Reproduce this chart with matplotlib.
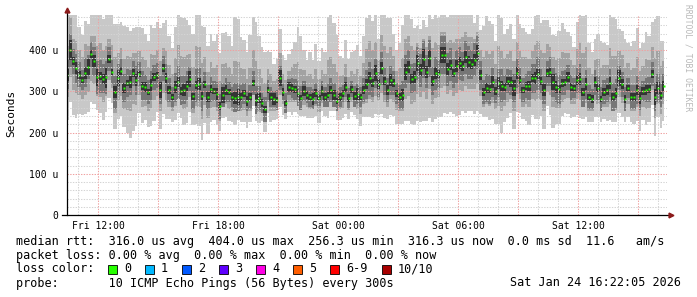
import numpy as np
import matplotlib
matplotlib.use("Agg")
import matplotlib.pyplot as plt
from matplotlib.patches import Rectangle

W, H = 697, 297

# time base: hours since Fri 00:00, one slot every 9 minutes
t_start = 10.45
t_step = 0.15

# median rtt per slot, microseconds
median = [
    340, 400, 373, 356, 340, 327, 345, 359, 390, 373, 334, 337, 330, 334, 378, 347, 298, 332, 349, 308,
    320, 322, 344, 327, 342, 313, 310, 298, 315, 334, 339, 303, 356, 332, 303, 286, 310, 322, 301, 303,
    313, 330, 288, 315, 317, 288, 317, 286, 305, 301, 293, 264, 291, 303, 298, 286, 284, 286, 286, 295,
    276, 286, 320, 279, 284, 272, 256, 303, 286, 281, 279, 332, 298, 272, 310, 308, 305, 295, 284, 301,
    291, 286, 281, 295, 284, 301, 286, 291, 303, 291, 276, 286, 295, 310, 284, 305, 288, 293, 286, 303,
    317, 332, 320, 344, 317, 356, 325, 303, 327, 320, 295, 286, 291, 347, 359, 330, 334, 368, 351, 378,
    347, 380, 325, 344, 342, 388, 388, 354, 364, 344, 361, 368, 361, 383, 371, 366, 376, 393, 339, 298,
    308, 305, 322, 301, 320, 313, 310, 325, 322, 308, 344, 327, 303, 313, 313, 332, 332, 342, 325, 303,
    344, 347, 322, 310, 305, 320, 322, 334, 310, 308, 327, 330, 298, 317, 286, 281, 322, 308, 281, 298,
    303, 320, 286, 295, 332, 317, 281, 308, 286, 286, 303, 284, 301, 303, 305, 342, 286, 308, 291, 313,
]

# smoke extents relative to the median (us): outer = min/max ping, mid, core, inner
up_out = [
    150, 160, 120, 140, 115, 110, 125, 105, 95, 130, 150, 160, 145, 150, 110, 140, 165, 130, 120, 150,
    135, 125, 110, 130, 115, 140, 130, 125, 145, 120, 130, 150, 110, 140,
    130, 120, 145, 185, 180, 175, 160, 130, 150, 185, 180, 170, 140, 125, 135, 120, 145, 130, 150, 140,
    135, 125, 195, 190, 145, 130, 120, 150, 160, 190, 150, 135, 140,
    95, 110, 85, 100, 120, 90, 105, 80, 95, 115, 160, 150, 100, 85, 110, 95, 120, 90, 105, 110,
    190, 185, 175, 160, 100, 85, 115, 95, 90, 110, 120, 100, 130,
    160, 170, 150, 140, 110, 150, 165, 175, 150, 120, 105, 130, 170, 150, 140, 145, 120, 90, 100, 95,
    110, 105, 150, 140, 135, 100, 105, 125, 120, 140, 125, 120, 130, 110,
    115, 120, 90, 95, 110, 160, 175, 165, 140, 120, 170, 165, 130, 125, 140, 120, 145, 135, 150, 130,
    125, 120, 150, 155, 140, 170, 130, 110, 115, 125, 140, 145, 130,
    110, 125, 100, 140, 175, 185, 170, 130, 115, 105, 130, 140, 120, 110, 165, 195, 180, 120, 130, 145,
    110, 125, 135, 150, 120, 115, 140, 130, 125, 190, 175, 130, 110,
]
dn_out = [
    110, 125, 130, 120, 95, 85, 100, 110, 115, 105, 80, 90, 100, 85, 95, 75, 90, 100, 110, 95,
    120, 135, 140, 110, 95, 90, 80, 85, 100, 105, 90, 95, 110, 100,
    70, 60, 80, 75, 65, 85, 90, 80, 70, 95, 100, 105, 95, 90, 80, 70, 75, 60, 55, 65,
    70, 60, 65, 55, 60, 70, 65, 60, 55, 50, 60, 45, 55,
    55, 60, 50, 45, 70, 55, 40, 60, 65, 55, 50, 45, 60, 55, 50, 45, 55, 60, 50, 45,
    55, 50, 40, 45, 55, 60, 65, 50, 55, 45, 60, 70, 65,
    80, 95, 85, 100, 75, 110, 90, 70, 85, 80, 75, 65, 70, 120, 130, 110, 115, 140, 125, 150,
    120, 145, 100, 110, 105, 150, 140, 110, 115, 100, 120, 125, 110, 135,
    120, 115, 130, 140, 95, 60, 70, 75, 90, 80, 100, 115, 85, 90, 75, 100, 95, 80, 70, 85,
    95, 90, 100, 110, 85, 95, 80, 105, 110, 90, 85, 80, 75,
    90, 75, 70, 85, 95, 65, 80, 60, 55, 85, 70, 55, 65, 75, 90, 60, 70, 85, 80, 55,
    70, 60, 65, 75, 80, 70, 85, 80, 75, 95, 70, 80, 85,
]
up_mid = [
    70, 80, 55, 65, 60, 55, 70, 50, 45, 60, 75, 80, 70, 75, 50, 65, 85, 60, 55, 70,
    65, 60, 50, 65, 55, 70, 65, 60, 75, 55, 60, 70, 50, 65,
    60, 55, 70, 90, 85, 80, 75, 60, 70, 95, 90, 80, 65, 60, 65, 55, 70, 60, 75, 65,
    60, 55, 90, 85, 70, 60, 55, 70, 80, 95, 70, 60, 65,
    50, 55, 45, 50, 60, 45, 55, 40, 50, 60, 75, 70, 50, 45, 55, 50, 60, 45, 50, 55,
    85, 80, 75, 70, 50, 45, 55, 50, 45, 55, 60, 50, 65,
    85, 90, 80, 75, 60, 80, 85, 90, 80, 65, 55, 70, 90, 80, 75, 80, 65, 50, 55, 50,
    60, 55, 80, 75, 70, 55, 55, 65, 60, 75, 65, 60, 70, 60,
    60, 65, 50, 50, 60, 85, 90, 85, 75, 65, 90, 85, 70, 65, 75, 65, 75, 70, 80, 70,
    65, 65, 80, 80, 75, 90, 70, 60, 60, 65, 75, 75, 70,
    60, 65, 55, 75, 90, 95, 90, 70, 60, 55, 70, 75, 65, 60, 85, 100, 90, 65, 70, 75,
    60, 65, 70, 80, 65, 60, 75, 70, 65, 95, 90, 70, 60,
]
dn_mid = [
    55, 65, 70, 60, 50, 45, 55, 60, 65, 55, 45, 50, 55, 45, 50, 40, 50, 55, 60, 50,
    65, 70, 75, 60, 50, 50, 45, 45, 55, 55, 50, 50, 60, 55,
    40, 35, 45, 40, 35, 45, 50, 45, 40, 50, 55, 55, 50, 50, 45, 40, 40, 35, 30, 35,
    40, 35, 35, 30, 35, 40, 35, 35, 30, 30, 35, 25, 30,
    30, 35, 30, 25, 40, 30, 25, 35, 35, 30, 30, 25, 35, 30, 30, 25, 30, 35, 30, 25,
    30, 30, 25, 25, 30, 35, 35, 30, 30, 25, 35, 40, 35,
    45, 50, 45, 55, 40, 60, 50, 40, 45, 45, 40, 35, 40, 65, 70, 60, 60, 75, 65, 80,
    65, 75, 55, 60, 55, 80, 75, 60, 60, 55, 65, 65, 60, 70,
    65, 60, 70, 75, 50, 35, 40, 40, 50, 45, 55, 60, 45, 50, 40, 55, 50, 45, 40, 45,
    50, 50, 55, 60, 45, 50, 45, 55, 60, 50, 45, 45, 40,
    50, 40, 40, 45, 50, 35, 45, 35, 30, 45, 40, 30, 35, 40, 50, 35, 40, 45, 45, 30,
    40, 35, 35, 40, 45, 40, 45, 45, 40, 50, 40, 45, 45,
]
core = [
    35, 40, 30, 35, 30, 25, 35, 30, 30, 35, 40, 40, 35, 40, 30, 30, 40, 35, 30, 35,
    35, 30, 30, 35, 30, 35, 30, 30, 35, 30, 30, 35, 30, 35,
    30, 25, 35, 40, 35, 35, 35, 30, 30, 40, 40, 35, 30, 30, 30, 25, 30, 30, 30, 30,
    25, 25, 35, 35, 30, 25, 25, 30, 30, 35, 30, 25, 30,
    25, 25, 20, 25, 30, 20, 25, 20, 25, 25, 30, 30, 25, 20, 25, 25, 25, 20, 25, 25,
    30, 30, 30, 25, 25, 20, 25, 25, 20, 25, 25, 25, 30,
    35, 40, 35, 35, 30, 40, 35, 30, 35, 30, 25, 30, 35, 40, 40, 35, 35, 40, 40, 45,
    40, 45, 35, 40, 35, 45, 45, 40, 40, 35, 40, 40, 35, 40,
    40, 35, 40, 40, 35, 30, 35, 35, 35, 30, 35, 40, 30, 30, 30, 35, 35, 30, 30, 30,
    35, 35, 35, 40, 30, 35, 30, 35, 35, 35, 35, 30, 30,
    30, 30, 25, 30, 35, 35, 35, 30, 25, 30, 30, 30, 30, 30, 35, 35, 35, 30, 30, 30,
    25, 30, 30, 35, 30, 25, 30, 30, 30, 35, 35, 30, 30,
]
inner = [
    15, 25, 10, 15, 10, 8, 15, 20, 10, 15, 20, 10, 12, 25, 10, 8, 15, 20, 10, 12,
    8, 15, 10, 15, 8, 10, 12, 8, 15, 10, 8, 20, 10, 12,
    10, 8, 15, 12, 10, 15, 12, 20, 8, 10, 15, 10, 8, 12, 10, 8, 15, 10, 20, 12,
    8, 10, 15, 20, 10, 8, 12, 10, 8, 15, 12, 10, 8,
    8, 10, 15, 8, 20, 10, 8, 12, 10, 8, 10, 8, 12, 10, 8, 15, 10, 8, 12, 10,
    8, 10, 12, 8, 10, 8, 12, 10, 8, 10, 15, 8, 10,
    12, 15, 10, 20, 12, 15, 10, 12, 15, 10, 8, 10, 15, 20, 15, 12, 15, 20, 15, 25,
    15, 20, 12, 15, 10, 20, 20, 15, 12, 10, 15, 15, 12, 15,
    15, 12, 15, 20, 12, 10, 12, 10, 15, 10, 15, 12, 10, 10, 12, 20, 15, 10, 8, 10,
    12, 10, 15, 12, 10, 15, 10, 12, 20, 15, 10, 10, 8,
    12, 10, 8, 12, 15, 10, 15, 8, 10, 12, 10, 8, 10, 12, 15, 10, 12, 20, 12, 10,
    8, 10, 10, 12, 15, 10, 12, 10, 10, 20, 15, 10, 12,
]

tick_hours = [12, 18, 24, 30, 36]
tick_labels = ["Fri 12:00", "Fri 18:00", "Sat 00:00", "Sat 06:00", "Sat 12:00"]
y_ticks = [0, 100, 200, 300, 400]
y_labels = ["0", "100 u", "200 u", "300 u", "400 u"]

loss_labels = ["0", "1", "2", "3", "4", "5", "6-9", "10/10"]
loss_colors = ["#26ff00", "#00b8ff", "#0059ff", "#5e00ff", "#ff00e5", "#ff5e00", "#ff0000", "#a80000"]

stats_lines = [
    "median rtt:  316.0 us avg  404.0 us max  256.3 us min  316.3 us now  0.0 ms sd  11.6   am/s",
    "packet loss: 0.00 % avg  0.00 % max  0.00 % min  0.00 % now",
    "loss color:",
    "probe:       10 ICMP Echo Pings (56 Bytes) every 300s",
]
stamp = "Sat Jan 24 16:22:05 2026"

MONO = "DejaVu Sans Mono"

med = np.array(median, float)
t = t_start + t_step * np.arange(len(med))

fig = plt.figure(figsize=(W / 100, H / 100), dpi=100)
fig.patch.set_facecolor("white")
ax = fig.add_axes([67 / W, 82 / H, 600 / W, 200 / H])

layers = [
    (up_out, dn_out, "#c8c8c8"),
    (up_mid, dn_mid, "#a2a2a2"),
    (core, core, "#767676"),
    (inner, inner, "#343434"),
]
for up, dn, col in layers:
    ax.fill_between(t, med - np.array(dn), med + np.array(up), step="mid", color=col, lw=0, zorder=2)

ax.plot(t, med, ls="none", marker="s", ms=2.0, color="#22ff00", mec="none", zorder=3)

ax.set_xlim(10.45, 40.45)
ax.set_ylim(0, 485)

# grid on top of the smoke, like rrdtool
for h in np.arange(11, 41, 1):
    major = h % 3 == 0
    ax.axvline(h, color="#f0a0a0" if major else "#d4d4d4", lw=0.75, ls=(0, (1.3, 1.3)), zorder=4)
for v in np.arange(20, 485, 20):
    major = v % 100 == 0
    ax.axhline(v, color="#f0a0a0" if major else "#d4d4d4", lw=0.75, ls=(0, (1.3, 1.3)), zorder=4)

for s in ax.spines.values():
    s.set_visible(False)
ax.set_xticks(tick_hours, tick_labels, fontsize=7, family=MONO)
ax.set_yticks(y_ticks, y_labels, fontsize=7, family=MONO)
ax.tick_params(axis="x", length=0, pad=4)
ax.tick_params(axis="y", length=0, pad=6)

# axis lines with arrows
ax.plot([0, 0], [0, 1.022], color="black", lw=0.9, transform=ax.transAxes, clip_on=False, zorder=5)
ax.plot([-0.008, 1.004], [0, 0], color="black", lw=0.9, transform=ax.transAxes, clip_on=False, zorder=5)
ax.plot([0], [1.025], marker="^", ms=3.5, color="#8b1a1a", transform=ax.transAxes, clip_on=False, zorder=6)
ax.plot([1.006], [0], marker=">", ms=3.5, color="#8b1a1a", transform=ax.transAxes, clip_on=False, zorder=6)

def fx(x):
    return x / W

def fy(y):
    return 1 - y / H

fig.text(fx(11), fy(113), "Seconds", rotation=90, ha="center", va="center", fontsize=8, family=MONO)
fig.text(fx(688), fy(4), "RRDTOOL / TOBI OETIKER", rotation=270, ha="center", va="top",
         fontsize=5.8, family=MONO, color="#b8b8b8")

rows = [242, 256, 269, 283]
for y, line in zip(rows, stats_lines):
    fig.text(fx(16), fy(y), line, ha="left", va="center", fontsize=8.5, family=MONO)
fig.text(fx(681), fy(rows[3]), stamp, ha="right", va="center", fontsize=8.5, family=MONO)

box_x = [108, 145, 182, 219, 256, 293, 330, 382]
for bx, lab, col in zip(box_x, loss_labels, loss_colors):
    fig.patches.append(Rectangle((fx(bx), fy(rows[2] + 4.5)), 9 / W, 9 / H, transform=fig.transFigure,
                                 facecolor=col, edgecolor="black", lw=0.6))
    fig.text(fx(bx + 16), fy(rows[2]), lab, ha="left", va="center", fontsize=8.5, family=MONO)

fig.savefig("out.png", dpi=100)
